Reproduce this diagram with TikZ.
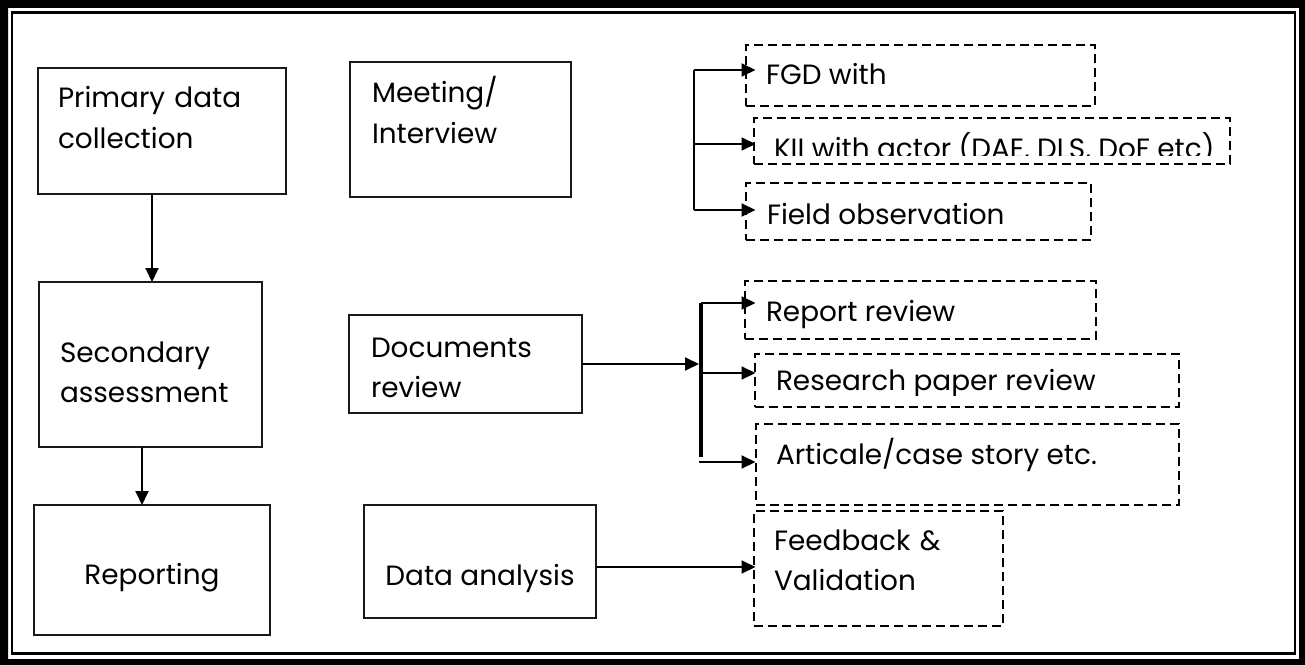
\documentclass[tikz,border=0pt]{standalone}
\usepackage{fontspec}
\setmainfont{Poppins}
\usetikzlibrary{arrows.meta}
\begin{document}
\begin{tikzpicture}[x=1bp,y=-1bp,
  solidbox/.style={draw=black!90, line width=1.9bp, anchor=north west, inner sep=0, outer sep=0},
  dashbox/.style={draw, line width=2.9bp, dash pattern=on 9bp off 5bp, anchor=north west, inner sep=0, outer sep=0},
  txt/.style={anchor=base west, inner sep=0, outer sep=0, text width=300bp, align=left, font=\fontsize{28}{41}\selectfont},
  txtline/.style={anchor=base west, inner sep=0, outer sep=0, font=\fontsize{28}{41}\selectfont},
  ctxt/.style={anchor=base, inner sep=0, outer sep=0, font=\fontsize{28}{41}\selectfont},
  arr/.style={line width=1.9bp, -{Triangle[length=14bp,width=13bp]}},
]
\useasboundingbox (0,0) rectangle (1305,665);

% double page frame
\fill[black, even odd rule] (0,0) rectangle (1305,665) (8,8) rectangle (1299,659);
\draw[line width=2.5bp] (12,12.5) rectangle (1295,653.5);

% left column
\node[solidbox, minimum width=248bp, minimum height=126bp] (primary) at (38,68) {};
\node[txt] (primaryt) at (58,108) {Primary data\\collection};
\node[solidbox, minimum width=223bp, minimum height=165bp] (secondary) at (39,282) {};
\node[txt] (secondaryt) at (60,362) {Secondary\\assessment};
\node[solidbox, minimum width=236bp, minimum height=130bp] (reporting) at (34,505) {};
\node[ctxt] (reportingt) at (152,584) {Reporting};

% middle column
\node[solidbox, minimum width=221bp, minimum height=135bp] (meeting) at (350,62) {};
\node[txt] (meetingt) at (372,103) {Meeting/\\Interview};
\node[solidbox, minimum width=233bp, minimum height=98bp] (documents) at (349,315) {};
\node[txt] (documentst) at (371,357) {Documents\\review};
\node[solidbox, minimum width=232bp, minimum height=113bp] (data) at (364,505) {};
\node[ctxt] (datat) at (480,585) {Data analysis};

% right column
\node[dashbox, minimum width=349bp, minimum height=61bp] (fgd) at (746,45) {};
\node[txtline] (fgdt) at (766,85) {FGD with};
\node[dashbox, minimum width=476bp, minimum height=46bp] (kii) at (754,118) {};
\begin{scope}
  \clip (750,112) rectangle (1228,155.5);
  \node[txtline] (kiit) at (774,158) {KII with actor (DAE, DLS, DoF etc)};
\end{scope}
\node[dashbox, minimum width=345bp, minimum height=57bp] (field) at (746,183) {};
\node[txtline] (fieldt) at (767,224) {Field observation};

\node[dashbox, minimum width=351bp, minimum height=58bp] (report) at (745,281) {};
\node[txtline] (reportt) at (766,321) {Report review};
\node[dashbox, minimum width=424bp, minimum height=53bp] (research) at (755,354) {};
\begin{scope}
  \clip (750,350) rectangle (1176,395);
  \node[txtline] (researcht) at (776,390) {Research paper review};
\end{scope}
\node[dashbox, minimum width=423bp, minimum height=81bp] (article) at (756,424) {};
\node[txtline] (articlet) at (776,464) {Articale/case story etc.};
\node[dashbox, minimum width=249bp, minimum height=115bp] (feedback) at (754,511) {};
\node[txt] (feedbackt) at (774,550) {Feedback \&\\Validation};

% arrow tips line up on one vertical
\coordinate (tipx) at (755.5,0);

% vertical flow on the left
\draw[arr] ([xshift=-10bp]primary.south) -- ([xshift=-10bp]primary.south |- secondary.north);
\draw[arr] ([xshift=-8.5bp]secondary.south) -- ([xshift=-8.5bp]secondary.south |- reporting.north);

% interview branches
\coordinate (ta) at (694,70);
\coordinate (tm) at (694,144);
\coordinate (tb) at (694,210);
\draw[line width=1.9bp] (ta) -- (tb);
\draw[arr] (ta) -- (ta -| tipx);
\draw[arr] (tm) -- (tm -| tipx);
\draw[arr] (tb) -- (tb -| tipx);

% document review branches
\coordinate (bt) at (701,303);
\coordinate (bm) at (701,373);
\coordinate (bb) at (701,457);
\coordinate (bl) at (699,462);
\draw[line width=4bp] (bt) -- (bb);
\draw[arr] (documents.east) -- (documents.east -| bl);
\draw[arr] (bt) -- (bt -| tipx);
\draw[arr] (bm) -- (bm -| tipx);
\draw[arr] (bl) -- (bl -| tipx);

% analysis to feedback
\draw[arr] ([yshift=-5.5bp]data.east) -- ([yshift=-5.5bp]data.east -| tipx);
\end{tikzpicture}
\end{document}
